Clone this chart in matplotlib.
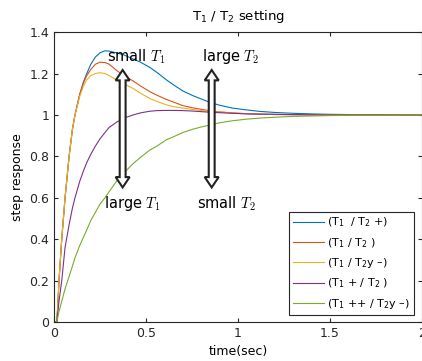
import numpy as np
import matplotlib
matplotlib.use("Agg")
import matplotlib.pyplot as plt
from matplotlib.patches import Polygon

# time axis shared by all step responses (sec)
t = [0, 0.015, 0.02, 0.027, 0.042, 0.06, 0.082, 0.1, 0.114, 0.14, 0.16, 0.178, 0.2,
     0.225, 0.25, 0.277, 0.3, 0.34, 0.38, 0.43, 0.47, 0.52, 0.56, 0.61, 0.65, 0.7,
     0.75, 0.8, 0.85, 0.9, 0.97, 1.05, 1.12, 1.2, 1.3, 1.4, 1.5, 1.6, 1.8, 2.0]

y_blue = [0, 0, 0.07, 0.2, 0.4, 0.6, 0.8, 0.93, 1.0, 1.1, 1.16, 1.2, 1.245, 1.28, 1.30,
          1.31, 1.308, 1.30, 1.29, 1.27, 1.255, 1.23, 1.205, 1.17, 1.145, 1.116, 1.095,
          1.077, 1.06, 1.047, 1.033, 1.024, 1.017, 1.012, 1.008, 1.005, 1.003, 1.002,
          1.001, 1.0]
y_orange = [0, 0, 0.07, 0.2, 0.4, 0.6, 0.8, 0.93, 1.0, 1.1, 1.155, 1.19, 1.22, 1.245,
            1.255, 1.253, 1.245, 1.215, 1.19, 1.164, 1.14, 1.113, 1.095, 1.075, 1.062,
            1.045, 1.035, 1.027, 1.02, 1.015, 1.01, 1.006, 1.004, 1.002, 1.001, 1.0,
            1.0, 1.0, 1.0, 1.0]
y_yellow = [0, 0, 0.07, 0.2, 0.4, 0.6, 0.8, 0.93, 1.0, 1.09, 1.14, 1.17, 1.19, 1.2,
            1.204, 1.2, 1.19, 1.169, 1.15, 1.128, 1.105, 1.08, 1.065, 1.049, 1.04,
            1.033, 1.027, 1.021, 1.017, 1.013, 1.009, 1.006, 1.004, 1.003, 1.002,
            1.001, 1.0, 1.0, 1.0, 1.0]
y_purple = [0, 0, 0.04, 0.1, 0.2, 0.36, 0.47, 0.55, 0.6, 0.68, 0.73, 0.77, 0.81, 0.85,
            0.885, 0.915, 0.94, 0.965, 0.985, 1.0, 1.01, 1.018, 1.021, 1.022, 1.022,
            1.021, 1.019, 1.016, 1.013, 1.011, 1.008, 1.005, 1.004, 1.003, 1.002,
            1.001, 1.0, 1.0, 1.0, 1.0]
y_green = [0, 0, 0.02, 0.05, 0.1, 0.16, 0.22, 0.27, 0.31, 0.37, 0.41, 0.445, 0.49, 0.53,
           0.57, 0.60, 0.63, 0.68, 0.72, 0.765, 0.795, 0.83, 0.85, 0.88, 0.895, 0.915,
           0.93, 0.942, 0.952, 0.962, 0.972, 0.98, 0.985, 0.989, 0.993, 0.995, 0.997,
           0.998, 0.999, 1.0]

series = [y_blue, y_orange, y_yellow, y_purple, y_green]
labels = ['(T$_1$  / T$_2$ +)', '(T$_1$ / T$_2$ )', '(T$_1$ / T$_2$y –)',
          '(T$_1$ + / T$_2$ )', '(T$_1$ ++ / T$_2$y –)']
colors = ['#0072BD', '#D95319', '#EDB120', '#7E2F8E', '#77AC30']

fig = plt.figure(figsize=(4.22, 3.61), dpi=100)
ax = fig.add_axes([0.128, 0.108, 0.872, 0.803])

for y, lab, c in zip(series, labels, colors):
    ax.plot(t, y, color=c, lw=0.8, label=lab)


# hollow double arrow
def double_arrow(x, y0, y1, sw=0.016, hw=0.038, hl=0.05):
    pts = [(x, y1), (x + hw, y1 - hl), (x + sw, y1 - hl), (x + sw, y0 + hl),
           (x + hw, y0 + hl), (x, y0), (x - hw, y0 + hl), (x - sw, y0 + hl),
           (x - sw, y1 - hl), (x - hw, y1 - hl)]
    ax.add_patch(Polygon(pts, closed=True, fc='white', ec='#222222', lw=1.5, zorder=5))


double_arrow(0.373, 0.65, 1.217)
double_arrow(0.857, 0.65, 1.217)

txt = dict(fontsize=10.5, ha='center', va='center', zorder=6, math_fontfamily='cm')
ax.text(0.446, 1.28, 'small $T_1$', **txt)
ax.text(0.957, 1.28, 'large $T_2$', **txt)
ax.text(0.427, 0.571, 'large $T_1$', **txt)
ax.text(0.935, 0.571, 'small $T_2$', **txt)

ax.set_xlim(0, 2)
ax.set_ylim(0, 1.4)
ax.set_xticks([0, 0.5, 1, 1.5, 2])
ax.set_xticklabels(['0', '0.5', '1', '1.5', '2'])
ax.set_yticks([0, 0.2, 0.4, 0.6, 0.8, 1.0, 1.2, 1.4])
ax.set_yticklabels(['0', '0.2', '0.4', '0.6', '0.8', '1', '1.2', '1.4'])
ax.tick_params(direction='in', top=True, right=True, length=3, labelsize=9,
               color='#262626', labelcolor='#262626')
for s in ax.spines.values():
    s.set_color('#262626')
    s.set_linewidth(0.8)

ax.set_xlabel('time(sec)', fontsize=9, labelpad=4)
ax.set_ylabel('step response', fontsize=9, labelpad=4)
ax.set_title('T$_1$ / T$_2$ setting', fontsize=9.5, pad=9)

leg = ax.legend(loc='lower right', bbox_to_anchor=(0.978, 0.024), fontsize=8,
                handlelength=2.8, handletextpad=0.3, borderaxespad=0,
                labelspacing=0.6, borderpad=0.35, fancybox=False, framealpha=1)
leg.get_frame().set_edgecolor('#262626')
leg.get_frame().set_linewidth(0.8)

fig.savefig('out.png', dpi=100)
